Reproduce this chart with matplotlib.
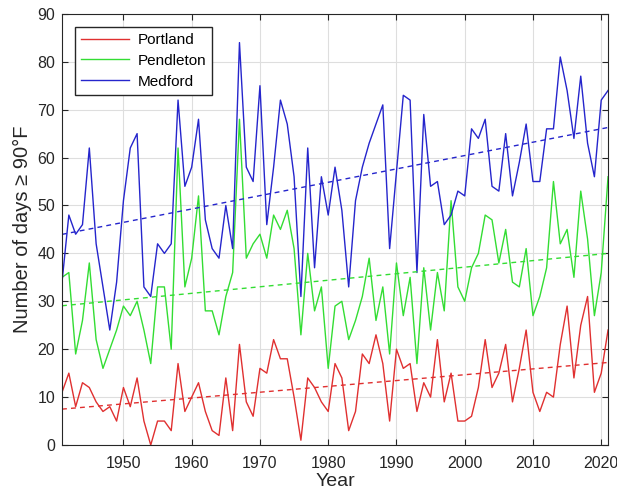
import matplotlib
matplotlib.use("Agg")
import matplotlib.pyplot as plt
import numpy as np

# Days per year with max temperature >= 90 F
years = list(range(1941, 2022))
portland = [11, 15, 8, 13, 12, 9, 7, 8, 5, 12,
            8, 14, 5, 0, 5, 5, 3, 17, 7, 10,
            13, 7, 3, 2, 14, 3, 21, 9, 6, 16,
            15, 22, 18, 18, 10, 1, 14, 12, 9, 7,
            17, 14, 3, 7, 19, 17, 23, 17, 5, 20,
            16, 17, 7, 13, 10, 22, 9, 15, 5, 5,
            6, 12, 22, 12, 15, 21, 9, 16, 24, 11,
            7, 11, 10, 21, 29, 14, 25, 31, 11, 15, 24]
pendleton = [35, 36, 19, 26, 38, 22, 16, 20, 24, 29,
             27, 30, 24, 17, 33, 33, 20, 62, 33, 39,
             52, 28, 28, 23, 31, 36, 68, 39, 42, 44,
             39, 48, 45, 49, 41, 23, 40, 28, 33, 16,
             29, 30, 22, 26, 31, 39, 26, 33, 19, 38,
             27, 35, 17, 37, 24, 36, 28, 51, 33, 30,
             37, 40, 48, 47, 38, 45, 34, 33, 41, 27,
             31, 37, 55, 42, 45, 35, 53, 43, 27, 36, 56]
medford = [34, 48, 44, 46, 62, 42, 33, 24, 34, 51,
           62, 65, 33, 31, 42, 40, 42, 72, 54, 58,
           68, 47, 41, 39, 50, 41, 84, 58, 55, 75,
           46, 58, 72, 67, 56, 31, 62, 37, 56, 48,
           58, 49, 33, 51, 58, 63, 67, 71, 41, 57,
           73, 72, 36, 69, 54, 55, 46, 48, 53, 52,
           66, 64, 68, 54, 53, 65, 52, 59, 67, 55,
           55, 66, 66, 81, 74, 64, 77, 63, 56, 72, 74]

names = ["Portland", "Pendleton", "Medford"]
colors = ["#e03030", "#33dd33", "#2525cc"]

plt.rcParams.update({
    "font.family": ["Liberation Sans", "DejaVu Sans"],
    "axes.edgecolor": "#262626",
    "xtick.color": "#262626",
    "ytick.color": "#262626",
})

fig = plt.figure(figsize=(6.17, 4.95), dpi=100)
ax = fig.add_axes([0.1005, 0.101, 0.885, 0.871])

x = np.array(years)
for name, vals, c in zip(names, [portland, pendleton, medford], colors):
    ax.plot(x, vals, color=c, lw=1.0, label=name)
# dashed linear trend for each station
for vals, c in zip([portland, pendleton, medford], colors):
    p = np.polyfit(x, vals, 1)
    ax.plot(x, np.polyval(p, x), color=c, lw=1.0, dashes=(3.5, 3))

ax.set_xlim(1941, 2021)
ax.set_ylim(0, 90)
ax.set_xticks(range(1950, 2021, 10))
ax.set_yticks(range(0, 91, 10))
ax.tick_params(direction="in", top=True, right=True, labelsize=11.5, length=4)
ax.tick_params(axis="x", pad=8)
ax.tick_params(axis="y", pad=5)
ax.grid(True, color="#dedede", lw=0.8)
ax.set_axisbelow(True)
ax.set_xlabel("Year", fontsize=14, color="#262626", labelpad=1)
ax.set_ylabel("Number of days \u2265 90\u00b0F", fontsize=14.5, color="#262626")

ax.legend(loc="upper left", bbox_to_anchor=(0.024, 0.97), borderaxespad=0,
          fontsize=11, frameon=True, fancybox=False, edgecolor="#262626",
          framealpha=1, handlelength=3.1, handletextpad=0.6,
          borderpad=0.4, labelspacing=0.45)

fig.savefig("out.png", dpi=100)
